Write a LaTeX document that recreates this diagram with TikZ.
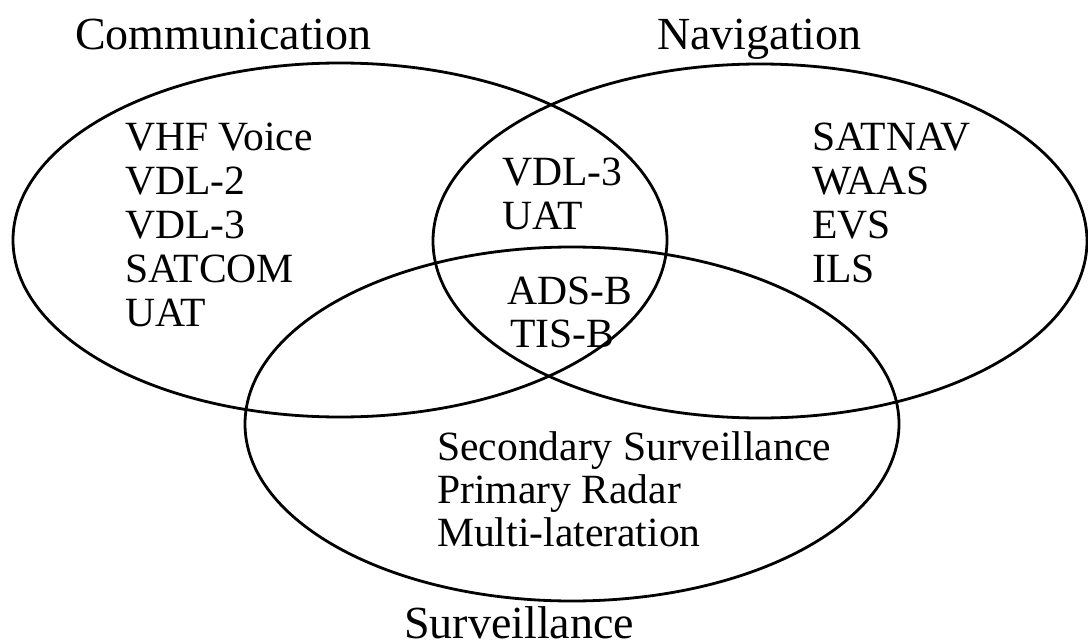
\documentclass[tikz,border=0pt]{standalone}
\usepackage{fontspec}
\setmainfont{Liberation Serif}
\usetikzlibrary{shapes.geometric}

\tikzset{
  setshape/.style={draw, line width=2.8pt, ellipse, inner sep=0pt, outer sep=0pt,
    minimum width=654pt, minimum height=354pt},
  setlabel/.style={anchor=base west, inner sep=0pt, font=\fontsize{46}{50}\selectfont},
  member/.style={anchor=base west, inner sep=0pt, font=\fontsize{41.6}{44}\selectfont},
}

\begin{document}
\begin{tikzpicture}[x=1pt, y=-1pt]
  \useasboundingbox (0,0) rectangle (1088,642);

  % the three sets
  \node[setshape] (comm) at (340,240) {};
  \node[setshape] (nav)  at (760,241) {};
  \node[setshape] (surv) at (572,424) {};

  % set names
  \node[setlabel] (commlabel) at (75,50)  {Communication};
  \node[setlabel] (navlabel)  at (657,50) {Navigation};
  \node[setlabel] (survlabel) at (404,638) {Surveillance};

  % communication only
  \foreach \t [count=\i] in {VHF Voice, VDL-2, VDL-3, SATCOM, UAT}
    \node[member] (c\i) at (125,{150+44*(\i-1)}) {\t};

  % communication and navigation
  \node[member] (cn1) at (502,185) {VDL-3};
  \node[member] (cn2) at (502,229) {UAT};

  % all three
  \node[member] (cns1) at (507,304) {ADS-B};
  \node[member] (cns2) at (510,347) {TIS-B};

  % navigation only
  \foreach \t [count=\i] in {SATNAV, WAAS, EVS, ILS}
    \node[member] (n\i) at (812,{150+44*(\i-1)}) {\t};

  % surveillance only
  \foreach \t [count=\i] in {Secondary Surveillance, Primary Radar, Multi-lateration}
    \node[member] (s\i) at (437,{460+43*(\i-1)}) {\t};
\end{tikzpicture}
\end{document}
